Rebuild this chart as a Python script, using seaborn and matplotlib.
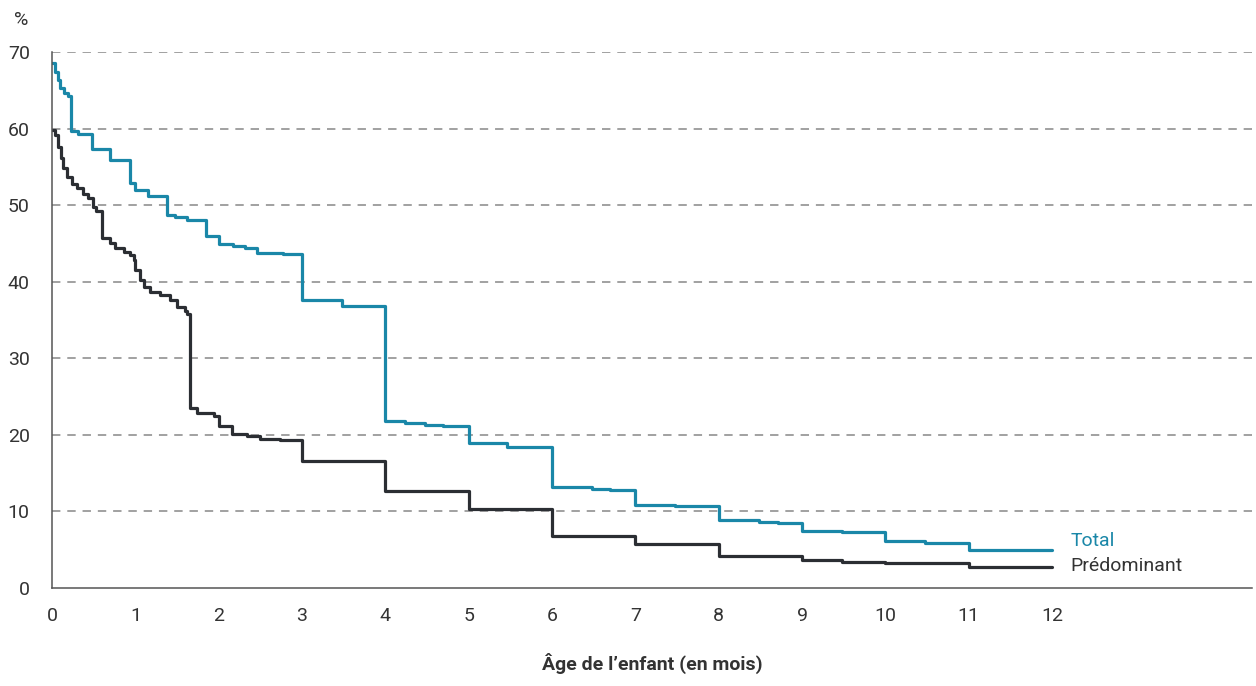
import matplotlib
matplotlib.use("Agg")
import matplotlib.pyplot as plt
import seaborn as sns
import pandas as pd
from matplotlib import font_manager

# ---- data ----
total_t = [0.0, 0.03, 0.07, 0.09, 0.14, 0.19, 0.23, 0.31, 0.48, 0.70, 0.94, 1.0, 1.15,
           1.38, 1.48, 1.62, 1.85, 2.0, 2.17, 2.32, 2.46, 2.70, 2.77, 3.0, 3.48, 4.0,
           4.24, 4.48, 4.69, 5.0, 5.46, 6.0, 6.48, 6.70, 7.0, 7.48, 8.0, 8.48, 8.71,
           9.0, 9.48, 10.0, 10.48, 11.0, 11.48, 12.0]
total_v = [68.6, 67.4, 66.3, 65.3, 64.6, 64.2, 59.7, 59.3, 57.3, 55.9, 52.9, 52.0, 51.2,
           48.7, 48.4, 48.1, 46.0, 44.9, 44.7, 44.4, 43.8, 43.7, 43.6, 37.6, 36.8, 21.8,
           21.5, 21.3, 21.1, 18.9, 18.4, 13.15, 12.9, 12.8, 10.8, 10.7, 8.9, 8.6, 8.45,
           7.45, 7.3, 6.1, 5.9, 5.0, 4.9, 4.9]

pred_t = [0.0, 0.036, 0.076, 0.104, 0.136, 0.176, 0.236, 0.296, 0.376, 0.436, 0.496,
          0.53, 0.60, 0.70, 0.76, 0.86, 0.94, 0.98, 1.0, 1.06, 1.10, 1.18, 1.30, 1.42,
          1.50, 1.60, 1.62, 1.65, 1.74, 1.94, 2.0, 2.16, 2.34, 2.5, 2.74, 3.0, 4.0,
          5.0, 6.0, 7.0, 8.0, 9.0, 9.48, 10.0, 11.0, 12.0]
pred_v = [59.8, 59.2, 57.6, 56.1, 54.8, 53.7, 52.8, 52.2, 51.5, 50.9, 49.8,
          49.3, 45.7, 45.0, 44.4, 43.9, 43.5, 42.8, 41.5, 40.2, 39.3, 38.7, 38.3, 37.6,
          36.7, 36.2, 35.8, 23.5, 22.8, 22.4, 21.1, 20.1, 19.8, 19.4, 19.3, 16.6, 12.7,
          10.3, 6.8, 5.8, 4.2, 3.7, 3.45, 3.2, 2.8, 2.8]

series_names = ["Total", "Prédominant"]
x_ticks = list(range(0, 13))
y_ticks = [0, 10, 20, 30, 40, 50, 60, 70]

BLUE = "#1a87a8"
DARK = "#2b2e33"

# ---- fonts ----
avail = {f.name for f in font_manager.fontManager.ttflist}
fam = [f for f in ["Liberation Sans Narrow", "Roboto", "DejaVu Sans"] if f in avail]

sns.set_style("white")
plt.rcParams["font.family"] = fam
plt.rcParams["text.color"] = "#333333"

df = pd.concat([
    pd.DataFrame({"t": total_t, "v": total_v, "s": series_names[0]}),
    pd.DataFrame({"t": pred_t, "v": pred_v, "s": series_names[1]}),
])

fig = plt.figure(figsize=(12.56, 6.86), dpi=100)
ax = fig.add_axes([52/1256, 1-588/686, 1200/1256, 536/686])

sns.lineplot(data=df, x="t", y="v", hue="s", palette={series_names[0]: BLUE, series_names[1]: DARK},
             drawstyle="steps-post", linewidth=2.3, legend=False, ax=ax, sort=False,
             estimator=None)

ax.set_xlim(0, 14.4)
ax.set_ylim(0, 70)
ax.set_xticks(x_ticks)
ax.set_yticks(y_ticks)
ax.set_xticklabels([str(t) for t in x_ticks])
ax.set_yticklabels([str(t) for t in y_ticks])

for y in y_ticks[1:]:
    ax.axhline(y, color="#888888", linewidth=1.1, linestyle=(0, (5.5, 4.5)), zorder=0)

for side in ["top", "right"]:
    ax.spines[side].set_visible(False)
for side in ["left", "bottom"]:
    ax.spines[side].set_color("#555555")
    ax.spines[side].set_linewidth(1.1)

ax.tick_params(axis="both", which="both", direction="out", length=6, width=1.0,
               color="#555555", labelsize=14, labelcolor="#333333")
ax.tick_params(axis="y", pad=10)
ax.tick_params(axis="x", pad=8)

ax.set_xlabel("Âge de l\u2019enfant (en mois)", fontsize=14, fontweight="bold",
              color="#333333", labelpad=20)
ax.set_ylabel("")

ax.text(12.22, total_v[-1] + 1.3, "Total", color=BLUE, fontsize=14, va="center", ha="left")
ax.text(12.22, pred_v[-1] + 0.1, "Prédominant", color="#333333", fontsize=14,
        va="center", ha="left")

fig.text(14/1256, 1-20/686, "%", fontsize=14, color="#333333", va="center", ha="left")

fig.savefig("out.png", dpi=100)
